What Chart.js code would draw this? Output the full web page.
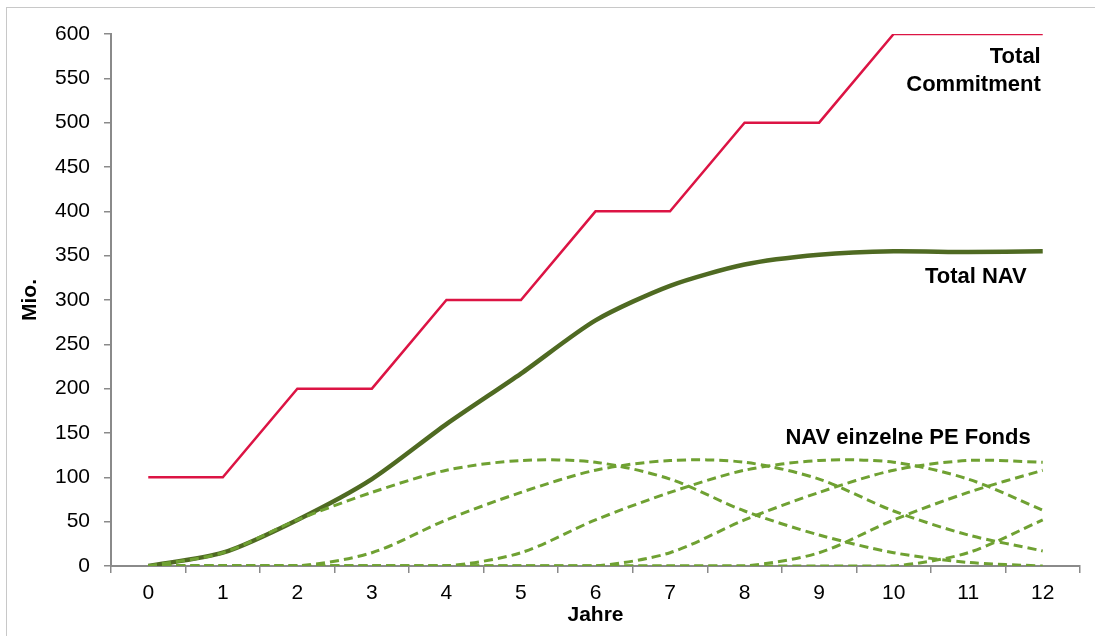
<!DOCTYPE html>
<html>
<head>
<meta charset="utf-8">
<script src="https://cdn.jsdelivr.net/npm/chart.js@4/dist/chart.umd.min.js"></script>
<style>
  html, body { margin: 0; padding: 0; background: #fff; overflow: hidden; }
  #wrap { position: relative; width: 1095px; height: 636px; overflow: hidden; }
  #frame { position: absolute; left: 6px; top: 7px; width: 1200px; height: 700px; border: 1.5px solid #c8c8c8; box-sizing: border-box; }
  canvas { position: absolute; left: 0; top: 0; }
</style>
</head>
<body>
<div id="wrap">
  <div id="frame"></div>
  <canvas id="chart" width="1095" height="636"></canvas>
</div>
<script>
const years = ["0", "1", "2", "3", "4", "5", "6", "7", "8", "9", "10", "11", "12"];
const totalCommitment = [100, 100, 200, 200, 300, 300, 400, 400, 500, 500, 600, 600, 600];
const totalNav = [0, 15, 52, 98, 160, 217, 277, 316, 340, 351, 355, 354, 355];
const fund1 = [0, 15, 52, 83, 108, 119, 117, 98, 62, 35, 15, 4, 0];
const fund2 = [0, 0, 0, 15, 52, 83, 108, 119, 117, 98, 62, 35, 17];
const fund3 = [0, 0, 0, 0, 0, 15, 52, 83, 108, 119, 117, 98, 63];
const fund4 = [0, 0, 0, 0, 0, 0, 0, 15, 52, 83, 108, 119, 117];
const fund5 = [0, 0, 0, 0, 0, 0, 0, 0, 0, 15, 52, 83, 108];
const fund6 = [0, 0, 0, 0, 0, 0, 0, 0, 0, 0, 0, 15, 52];
const funds = [fund1, fund2, fund3, fund4, fund5, fund6];

const fontFamily = "'Liberation Sans', Arial, sans-serif";
const axisGray = "#8a8a8a";

const fundSets = funds.map((f) => ({
  data: f,
  borderColor: "#6fa132",
  borderWidth: 3,
  borderDash: [9, 5],
  pointRadius: 0,
  tension: 0.3,
  fill: false,
}));

// labels written next to the lines
const lineLabels = {
  id: "lineLabels",
  afterDatasetsDraw(chart) {
    const { ctx } = chart;
    const x = chart.scales.x;
    const y = chart.scales.y;
    const right = x.getPixelForValue(12);
    ctx.save();
    ctx.fillStyle = "#000";
    ctx.font = "bold 22px " + fontFamily;
    ctx.textAlign = "right";
    ctx.textBaseline = "middle";
    ctx.fillText("Total", right - 2, y.getPixelForValue(574));
    ctx.fillText("Commitment", right - 2, y.getPixelForValue(543));
    ctx.fillText("Total NAV", right - 16, y.getPixelForValue(326));
    ctx.fillText("NAV einzelne PE Fonds", right - 12, y.getPixelForValue(144));
    ctx.restore();
  },
};

new Chart(document.getElementById("chart"), {
  type: "line",
  data: {
    labels: years,
    datasets: [
      ...fundSets,
      {
        data: totalNav,
        borderColor: "#4f6a22",
        borderWidth: 4.5,
        pointRadius: 0,
        tension: 0.25,
        fill: false,
      },
      {
        data: totalCommitment,
        borderColor: "#dc1444",
        borderWidth: 2.5,
        pointRadius: 0,
        tension: 0,
        fill: false,
      },
    ],
  },
  options: {
    responsive: false,
    animation: false,
    layout: { padding: { left: 18, right: 15, top: 34, bottom: 8 } },
    plugins: { legend: { display: false }, tooltip: { enabled: false } },
    scales: {
      x: {
        offset: true,
        grid: { offset: true, drawOnChartArea: false, color: axisGray, lineWidth: 1.5, tickLength: 7 },
        border: { color: axisGray, width: 2 },
        ticks: { color: "#000", font: { family: fontFamily, size: 21 }, padding: 8, maxRotation: 0 },
        title: { display: true, text: "Jahre", color: "#000", font: { family: fontFamily, size: 21, weight: "bold" }, padding: { top: 0, bottom: 0 } },
        afterFit(scale) { scale.height = 62; },
      },
      y: {
        min: 0,
        max: 600,
        ticks: { stepSize: 50, color: "#000", font: { family: fontFamily, size: 21 }, padding: 14 },
        grid: { drawOnChartArea: false, color: axisGray, lineWidth: 1.5, tickLength: 7 },
        border: { color: axisGray, width: 2 },
        title: { display: true, text: "Mio.", color: "#000", font: { family: fontFamily, size: 21, weight: "bold" }, padding: { top: 0, bottom: 0 } },
        afterFit(scale) { scale.width = 93; },
      },
    },
  },
  plugins: [lineLabels],
});
</script>
</body>
</html>
